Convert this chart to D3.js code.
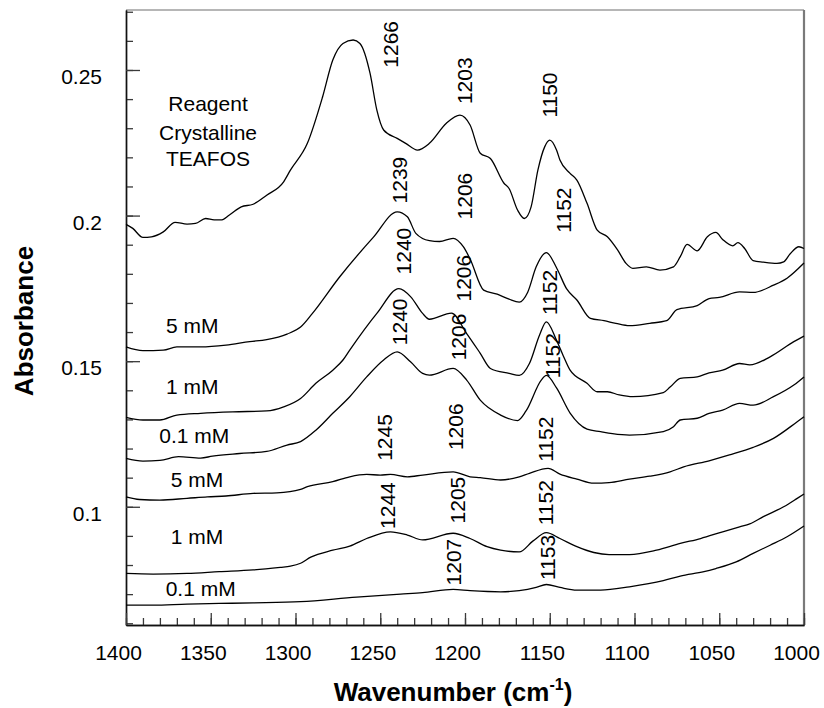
<!DOCTYPE html>
<html>
<head>
<meta charset="utf-8">
<script src="https://cdn.jsdelivr.net/npm/d3@7"></script>
<style>
  html, body { margin: 0; padding: 0; background: #fff; }
  svg text { font-family: "Liberation Sans", Arial, Helvetica, sans-serif; fill: #000; }
</style>
</head>
<body>
<svg id="chart" width="824" height="708"></svg>
<script>
// FTIR spectra of TEAFOS: absorbance vs wavenumber (cm-1), stacked traces.
// Each series is a list of [wavenumber, absorbance] pairs.

const reagentCrystalline = [
  [1400,0.1970],[1396,0.1956],[1390,0.1925],[1385,0.1927],[1378,0.1944],[1371,0.1977],
  [1364,0.1971],[1359,0.1973],[1353,0.1990],[1348,0.1985],[1344,0.1985],[1339,0.2002],
  [1332,0.2030],[1325,0.2039],[1317,0.2070],[1307,0.2116],[1303,0.2156],[1293,0.2248],
  [1284,0.2408],[1278,0.2534],[1272,0.2591],[1266,0.2603],[1262,0.2591],[1256,0.2488],
  [1252,0.2362],[1248,0.2294],[1240,0.2265],[1235,0.2248],[1228,0.2225],[1221,0.2248],
  [1211,0.2317],[1203,0.2345],[1197,0.2311],[1191,0.2214],[1185,0.2196],[1177,0.2111],
  [1174,0.2093],[1169,0.2019],[1165,0.1990],[1161,0.2030],[1157,0.2156],[1153,0.2236],
  [1150,0.2259],[1146,0.2225],[1144,0.2191],[1138,0.2145],[1134,0.2122],[1128,0.2042],
  [1122,0.1950],[1116,0.1927],[1110,0.1882],[1105,0.1836],[1101,0.1819],[1093,0.1824],
  [1085,0.1813],[1077,0.1824],[1073,0.1859],[1069,0.1901],[1063,0.1879],[1057,0.1927],
  [1052,0.1942],[1048,0.1918],[1042,0.1896],[1039,0.1907],[1035,0.1887],[1030,0.1845],
  [1024,0.1840],[1016,0.1836],[1012,0.1841],[1008,0.1870],[1003,0.1893],[1000,0.1887]
];

const setA_5mM = [
  [1400,0.1549],[1390,0.1536],[1378,0.1538],[1370,0.1549],[1356,0.1549],[1341,0.1555],
  [1327,0.1567],[1317,0.1574],[1305,0.1593],[1297,0.1617],[1290,0.1664],[1274,0.1789],
  [1254,0.1926],[1240,0.2013],[1234,0.1996],[1229,0.1939],[1221,0.1914],[1215,0.1911],
  [1207,0.1922],[1201,0.1893],[1197,0.1851],[1189,0.1744],[1181,0.1730],[1174,0.1713],
  [1168,0.1703],[1163,0.1737],[1158,0.1824],[1152,0.1873],[1146,0.1821],[1140,0.1748],
  [1134,0.1710],[1126,0.1647],[1118,0.1639],[1111,0.1630],[1103,0.1622],[1091,0.1630],
  [1081,0.1639],[1075,0.1677],[1063,0.1691],[1056,0.1715],[1050,0.1719],[1038,0.1738],
  [1030,0.1736],[1018,0.1761],[1010,0.1785],[1000,0.1837]
];

const setA_1mM = [
  [1400,0.1307],[1390,0.1298],[1380,0.1298],[1370,0.1315],[1356,0.1321],[1337,0.1326],
  [1317,0.1329],[1307,0.1343],[1297,0.1372],[1288,0.1424],[1278,0.1469],[1272,0.1504],
  [1268,0.1538],[1252,0.1664],[1239,0.1749],[1232,0.1721],[1225,0.1664],[1221,0.1644],
  [1208,0.1665],[1199,0.1595],[1191,0.1527],[1185,0.1475],[1174,0.1458],[1168,0.1451],
  [1162,0.1492],[1156,0.1590],[1152,0.1635],[1146,0.1572],[1142,0.1518],[1138,0.1469],
  [1128,0.1424],[1122,0.1395],[1116,0.1395],[1109,0.1384],[1101,0.1378],[1083,0.1392],
  [1079,0.1411],[1073,0.1441],[1063,0.1446],[1056,0.1460],[1048,0.1469],[1038,0.1492],
  [1032,0.1487],[1020,0.1515],[1006,0.1567],[1000,0.1586]
];

const setA_01mM = [
  [1400,0.1166],[1390,0.1157],[1380,0.1159],[1369,0.1172],[1356,0.1167],[1349,0.1174],
  [1333,0.1183],[1317,0.1190],[1305,0.1212],[1297,0.1224],[1288,0.1263],[1278,0.1321],
  [1268,0.1378],[1258,0.1446],[1248,0.1504],[1240,0.1532],[1232,0.1497],[1225,0.1458],
  [1221,0.1452],[1207,0.1475],[1199,0.1435],[1191,0.1366],[1179,0.1315],[1169,0.1296],
  [1164,0.1329],[1155,0.1435],[1152,0.1451],[1146,0.1408],[1138,0.1322],[1128,0.1267],
  [1120,0.1258],[1113,0.1251],[1103,0.1246],[1083,0.1258],[1077,0.1275],[1073,0.1298],
  [1063,0.1304],[1056,0.1321],[1048,0.1332],[1038,0.1355],[1030,0.1349],[1018,0.1378],
  [1006,0.1418],[1000,0.1446]
];

const setB_5mM = [
  [1400,0.1034],[1392,0.1025],[1380,0.1023],[1364,0.1029],[1352,0.1034],[1341,0.1037],
  [1325,0.1046],[1311,0.1048],[1297,0.1060],[1293,0.1069],[1278,0.1086],[1268,0.1103],
  [1258,0.1111],[1250,0.1109],[1244,0.1111],[1234,0.1103],[1225,0.1109],[1207,0.1120],
  [1197,0.1103],[1191,0.1100],[1179,0.1092],[1168,0.1103],[1162,0.1115],[1151,0.1132],
  [1144,0.1112],[1134,0.1095],[1124,0.1081],[1115,0.1083],[1103,0.1095],[1091,0.1105],
  [1079,0.1120],[1071,0.1137],[1056,0.1158],[1044,0.1178],[1030,0.1204],[1018,0.1235],
  [1004,0.1292],[1000,0.1309]
];

const setB_1mM = [
  [1400,0.0771],[1384,0.0769],[1364,0.0771],[1345,0.0777],[1325,0.0783],[1309,0.0792],
  [1303,0.0796],[1297,0.0806],[1291,0.0827],[1278,0.0851],[1268,0.0865],[1258,0.0891],
  [1244,0.0914],[1234,0.0903],[1225,0.0886],[1207,0.0909],[1197,0.0891],[1187,0.0863],
  [1179,0.0851],[1168,0.0845],[1160,0.0882],[1152,0.0911],[1144,0.0891],[1134,0.0863],
  [1124,0.0843],[1115,0.0836],[1103,0.0836],[1087,0.0851],[1073,0.0874],[1061,0.0891],
  [1048,0.0914],[1038,0.0931],[1032,0.0941],[1024,0.0966],[1012,0.1000],[1004,0.1029],
  [1000,0.1044]
];

const setB_01mM = [
  [1400,0.0662],[1384,0.0662],[1364,0.0666],[1345,0.0668],[1325,0.0670],[1297,0.0674],
  [1264,0.0690],[1238,0.0700],[1225,0.0705],[1207,0.0716],[1197,0.0712],[1179,0.0708],
  [1168,0.0712],[1158,0.0723],[1152,0.0733],[1144,0.0723],[1134,0.0714],[1120,0.0714],
  [1103,0.0725],[1083,0.0746],[1073,0.0762],[1059,0.0777],[1052,0.0788],[1040,0.0811],
  [1030,0.0840],[1020,0.0868],[1010,0.0897],[1000,0.0934]
];

const spectra = [reagentCrystalline, setA_5mM, setA_1mM, setA_01mM, setB_5mM, setB_1mM, setB_01mM];

// Peak annotations: text, wavenumber and absorbance where the label is centred
const peakLabels = [
  ["1266",1244.2,0.2588],["1203",1200.5,0.2463],["1150",1149.9,0.2414],
  ["1239",1238.9,0.2122],["1206",1200.6,0.2067],["1152",1142.2,0.2019],
  ["1240",1236.6,0.1878],["1206",1201.2,0.1785],["1152",1150.4,0.1736],
  ["1240",1238.9,0.1635],["1206",1204.1,0.1583],["1152",1148.7,0.1519],
  ["1245",1247.8,0.1238],["1206",1205.6,0.1275],["1152",1152.8,0.1232],
  ["1244",1246.0,0.1004],["1205",1204.7,0.1023],["1152",1152.5,0.1014],
  ["1207",1207.1,0.0810],["1153",1151.3,0.0826]
];

// Sample names: text, wavenumber of left edge, absorbance at baseline
const sampleLabels = [
  ["5 mM",1376.4,0.1598],["1 mM",1376.4,0.1389],["0.1 mM",1380.4,0.1219],
  ["5 mM",1373.6,0.1069],["1 mM",1373.6,0.0872],["0.1 mM",1376.6,0.0693]
];
// Reagent title lines, centred on a wavenumber, baseline absorbances
const reagentTitle = ["Reagent","Crystalline","TEAFOS"];
const reagentTitleWn = 1351.6;
const reagentTitleAbs = [0.2359,0.2261,0.2170];

const xMajorTicks = [1400,1350,1300,1250,1200,1150,1100,1050,1000];
const xMinorTicks = d3.range(1400,999,-10);
const yMajorTicks = [0.1,0.15,0.2,0.25];
const yTickLabels = ["0.1","0.15","0.2","0.25"];
const yMinorTicks = d3.range(6,28).map(v => v/100);

// ---- layout ----
const plot = {left:126, right:804, top:10, bottom:625};
const svg = d3.select("#chart");

const x = d3.scaleLinear().domain([1400,1000]).range([plot.left, plot.right]);
const y = d3.scaleLinear().domain([0.0594,0.2706]).range([plot.bottom, plot.top]);

// frame (top and right edges)
svg.append("line").attr("x1",plot.left).attr("x2",plot.right).attr("y1",plot.top).attr("y2",plot.top)
  .attr("stroke","#6e6e6e").attr("stroke-width",1.2);
svg.append("line").attr("x1",plot.right).attr("x2",plot.right).attr("y1",plot.top).attr("y2",plot.bottom)
  .attr("stroke","#7a7a7a").attr("stroke-width",2.2);

// y axis: minor then major ticks, pointing inward
const yMinorAxis = d3.axisLeft(y).tickValues(yMinorTicks).tickSizeInner(-7).tickSizeOuter(0).tickFormat("");
const yMajorAxis = d3.axisLeft(y).tickValues(yMajorTicks).tickSizeInner(-14).tickSizeOuter(0)
  .tickPadding(24).tickFormat((d,i) => yTickLabels[i]);
const gyMinor = svg.append("g").attr("transform",`translate(${plot.left},0)`).call(yMinorAxis);
const gy = svg.append("g").attr("transform",`translate(${plot.left},0)`).call(yMajorAxis);

// x axis
const xMinorAxis = d3.axisBottom(x).tickValues(xMinorTicks).tickSizeInner(-7).tickSizeOuter(0).tickFormat("");
const xMajorAxis = d3.axisBottom(x).tickValues(xMajorTicks).tickSizeInner(-12).tickSizeOuter(0)
  .tickPadding(20).tickFormat(d3.format("d"));
const gxMinor = svg.append("g").attr("transform",`translate(0,${plot.bottom})`).call(xMinorAxis);
const gx = svg.append("g").attr("transform",`translate(0,${plot.bottom})`).call(xMajorAxis);

[gyMinor, gy, gxMinor, gx].forEach(g => {
  g.selectAll(".tick line").attr("stroke","#3a3a3a").attr("stroke-width",1.3);
  g.select(".domain").attr("stroke","#111").attr("stroke-width",1.4);
  g.selectAll("text").attr("font-size",21).attr("fill","#000")
    .style("font-family","'Liberation Sans', Arial, sans-serif");
});
gy.selectAll("text").attr("dy","0.64em");
gx.selectAll("text").attr("dx",-8);

// spectra
const line = d3.line().x(d => x(d[0])).y(d => y(d[1])).curve(d3.curveMonotoneX);
svg.append("g").selectAll("path").data(spectra).join("path")
  .attr("d", line).attr("fill","none").attr("stroke","#000").attr("stroke-width",1.3)
  .attr("stroke-linejoin","round");

// peak labels (rotated)
svg.append("g").selectAll("text").data(peakLabels).join("text")
  .attr("transform", d => `translate(${x(d[1])},${y(d[2])}) rotate(-90)`)
  .attr("text-anchor","middle").attr("dy","0.36em").attr("font-size",21)
  .text(d => d[0]);

// sample labels
svg.append("g").selectAll("text").data(sampleLabels).join("text")
  .attr("x", d => x(d[1])).attr("y", d => y(d[2])).attr("font-size",21)
  .text(d => d[0]);

svg.append("g").selectAll("text").data(reagentTitle).join("text")
  .attr("x", x(reagentTitleWn)).attr("y", (d,i) => y(reagentTitleAbs[i]))
  .attr("text-anchor","middle").attr("font-size",21).text(d => d);

// axis titles
svg.append("text").attr("transform","translate(33,321) rotate(-90)")
  .attr("text-anchor","middle").attr("font-size",26).attr("font-weight","bold")
  .text("Absorbance");

const xt = svg.append("text").attr("x",453).attr("y",701).attr("text-anchor","middle")
  .attr("font-size",26).attr("font-weight","bold");
xt.append("tspan").text("Wavenumber (cm");
xt.append("tspan").attr("font-size",16).attr("dy",-11).text("-1");
xt.append("tspan").attr("dy",11).text(")");
</script>
</body>
</html>
